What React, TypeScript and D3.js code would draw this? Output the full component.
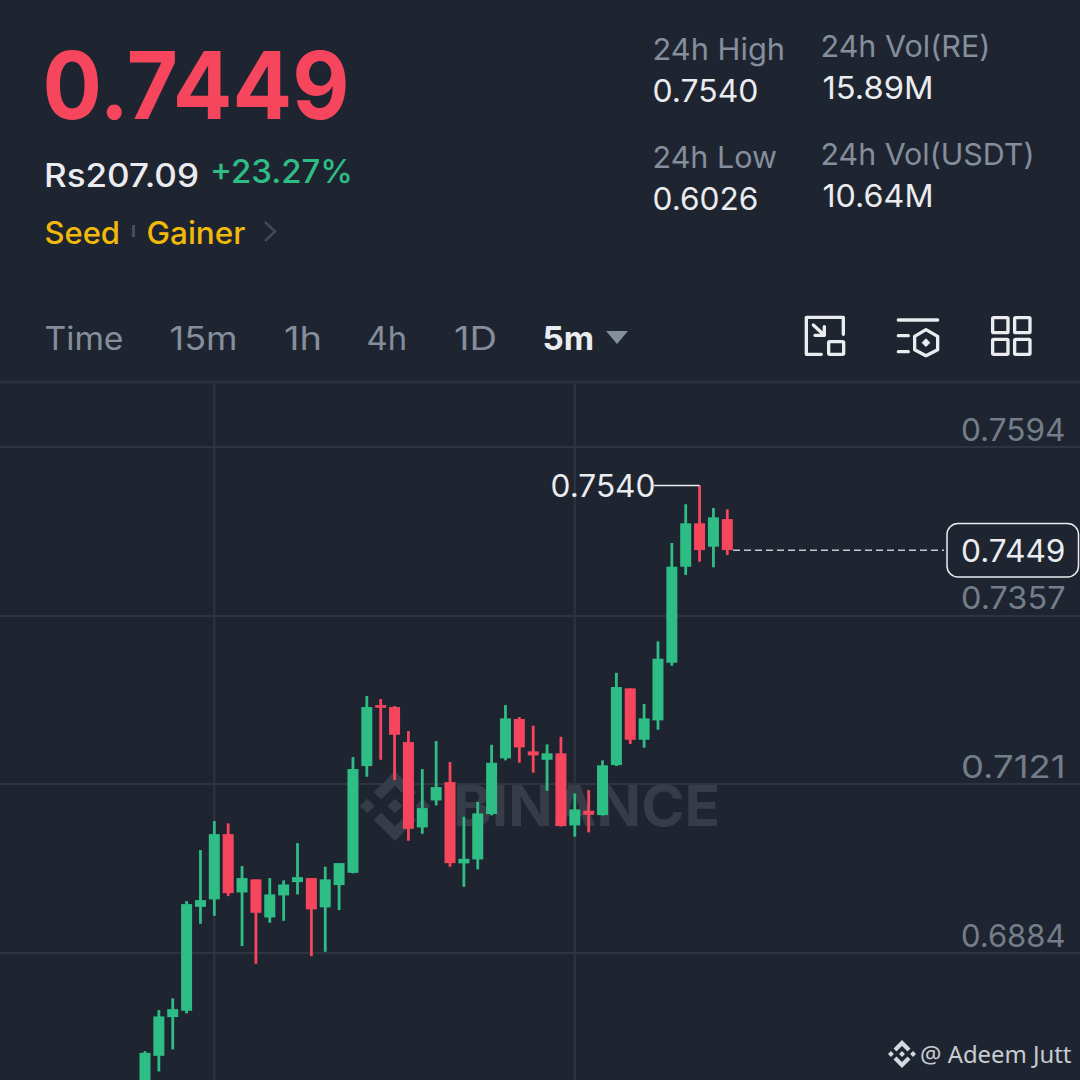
import React from "react";
import * as d3 from "d3";

const opens = [0.66845,0.67397,0.6794,0.68029,0.69488,0.69592,0.70508,0.6969,0.69873,0.69339,0.69648,0.69835,0.69891,0.6948,0.69793,0.69965,0.71463,0.72319,0.72291,0.718,0.70602,0.70981,0.71238,0.70097,0.70153,0.70789,0.71571,0.72123,0.71669,0.71551,0.71641,0.7063,0.70836,0.70775,0.71477,0.72553,0.71832,0.72104,0.72913,0.7426,0.74869,0.74541,0.74929];
const highs = [0.67463,0.68038,0.68203,0.69568,0.70284,0.70691,0.70659,0.70059,0.69873,0.69891,0.69859,0.70382,0.69891,0.7005,0.70101,0.71589,0.72445,0.72403,0.72305,0.71954,0.71421,0.71814,0.71519,0.70751,0.70958,0.71762,0.72319,0.72151,0.72029,0.71767,0.71874,0.7108,0.71126,0.71543,0.72772,0.72553,0.72333,0.73213,0.74593,0.75136,0.7540,0.75084,0.75066];
const lows = [0.66775,0.67178,0.67487,0.67992,0.6925,0.69362,0.69638,0.68937,0.68688,0.69264,0.69292,0.69662,0.68796,0.68857,0.69442,0.69957,0.71313,0.71551,0.71266,0.70415,0.70513,0.70911,0.7005,0.69769,0.70013,0.70771,0.71543,0.71509,0.71369,0.71116,0.70614,0.70471,0.70532,0.70771,0.71463,0.71772,0.7172,0.71972,0.72871,0.74144,0.7433,0.74252,0.74424];
const closes = [0.67439,0.6795,0.68052,0.69526,0.69582,0.70508,0.6968,0.69891,0.69404,0.69662,0.69802,0.69905,0.69452,0.69873,0.70101,0.71421,0.72291,0.72281,0.71902,0.70583,0.70873,0.71168,0.70101,0.70162,0.70799,0.71509,0.72132,0.71725,0.71613,0.71641,0.70621,0.70855,0.70779,0.71473,0.72572,0.71832,0.72132,0.72969,0.7426,0.74869,0.74494,0.74953,0.74494];
const priceTicks = [0.7594, 0.7357, 0.7121, 0.6884];
const lastPrice = 0.7449;
const highPrice = 0.754;
const highIndex = 40;
const timeGridIndex = [5, 31];

const BG = "#1f2530";
const GREEN = "#2ebd85";
const RED = "#f6465d";
const GRID = "#2e3541";
const WHITE = "#eaecef";
const GREY = "#848e9c";
const FONT = "Inter, sans-serif";

const x = d3.scaleLinear().domain([0, opens.length - 1]).range([145, 727.3]);
const y = d3.scaleLinear().domain([0.7594, 0.6884]).range([447, 953]);
const BODY = 11;
const WICK = 2.8;

type TP = { x: number; y: number; w: number; s: number; c: string; wt?: number; f?: string; children: string };
function T({ x, y, w, s, c, wt = 400, f = FONT, children }: TP) {
  return (
    <text x={x} y={y} fontSize={s} fill={c} fontWeight={wt} fontFamily={f} textLength={w} lengthAdjust="spacingAndGlyphs">
      {children}
    </text>
  );
}

function Logo({ cx, cy, r, fill }: { cx: number; cy: number; r: number; fill: string }) {
  const top = "0,-1 0.605,-0.395 0.395,-0.185 0,-0.58 -0.395,-0.185 -0.605,-0.395";
  const bottom = "0,1 0.605,0.395 0.395,0.185 0,0.58 -0.395,0.185 -0.605,0.395";
  const diamond = (c: number) => `${c - 0.21},0 ${c},-0.21 ${c + 0.21},0 ${c},0.21`;
  return (
    <g transform={`translate(${cx},${cy}) scale(${r})`} fill={fill}>
      <polygon points={top} />
      <polygon points={bottom} />
      <polygon points={diamond(0)} />
      <polygon points={diamond(-0.79)} />
      <polygon points={diamond(0.79)} />
    </g>
  );
}

export default function App() {
  return (
    <svg width={1080} height={1080} viewBox="0 0 1080 1080" style={{ position: "fixed", left: 0, top: 0, display: "block" }}>
      <rect width={1080} height={1080} fill={BG} />

      {/* header */}
      <T x={42.5} y={119} w={307} s={93} c={RED} wt={700}>0.7449</T>
      <T x={44} y={186.5} w={155} s={32} c={WHITE} wt={500}>Rs207.09</T>
      <T x={210} y={182.5} w={143} s={32} c={GREEN} wt={500}>+23.27%</T>
      <T x={44.5} y={243.5} w={75.5} s={31} c="#f0b90b" wt={500}>Seed</T>
      <rect x={132} y={225} width={3} height={12} fill="#474d57" />
      <T x={146.5} y={243.5} w={99} s={31} c="#f0b90b" wt={500}>Gainer</T>
      <path d="M265,222 L275,231.5 L265,241" fill="none" stroke="#474d57" strokeWidth={2.4} />

      <T x={652.5} y={59.5} w={132.5} s={30} c={GREY}>24h High</T>
      <T x={652.5} y={101.5} w={106} s={31} c={WHITE}>0.7540</T>
      <T x={652.5} y={167.5} w={124.5} s={30} c={GREY}>24h Low</T>
      <T x={652.5} y={209.5} w={106} s={31} c={WHITE}>0.6026</T>
      <T x={820.5} y={56.5} w={170} s={30} c={GREY}>24h Vol(RE)</T>
      <T x={822.5} y={99} w={111} s={31} c={WHITE}>15.89M</T>
      <T x={820.5} y={165} w={214} s={30} c={GREY}>24h Vol(USDT)</T>
      <T x={822.5} y={207} w={111} s={31} c={WHITE}>10.64M</T>

      {/* toolbar */}
      <T x={44.5} y={349.5} w={79} s={32} c={GREY}>Time</T>
      <T x={169.5} y={349.5} w={68} s={32} c={GREY}>15m</T>
      <T x={284} y={349.5} w={38} s={32} c={GREY}>1h</T>
      <T x={366.5} y={349.5} w={40.5} s={32} c={GREY}>4h</T>
      <T x={454} y={349.5} w={43} s={32} c={GREY}>1D</T>
      <T x={542.5} y={349.5} w={51.5} s={32} c={WHITE} wt={700}>5m</T>
      <path d="M606,331 L628,331 L617,344 Z" fill="#848e9c" />

      <g transform="translate(780,300) scale(0.3333)" fill="none" stroke={WHITE} strokeWidth={10} strokeLinejoin="round" strokeLinecap="round">
        <path d="M190,103 L190,52 L79,52 L79,163 L124,163" />
        <rect x={146} y={125} width={45} height={38} rx={3} />
        <path d="M100,75 L133,106 M133,80 L133,106 L105,106" />
        <path d="M355,60 L473,60 M355,107 L385,107 M355,155 L385,155" />
        <path d="M438,89 L473,109 L473,149 L438,167 L404,149 L404,109 Z" />
        <path d="M438,115 L451,128 L438,141 L425,128 Z" fill={WHITE} stroke="none" />
        <rect x={638} y={53} width={46} height={45} rx={3} />
        <rect x={704} y={53} width={46} height={45} rx={3} />
        <rect x={638} y={118} width={46} height={45} rx={3} />
        <rect x={704} y={118} width={46} height={45} rx={3} />
      </g>

      <rect x={0} y={380.5} width={1080} height={3} fill="#2a303b" />

      {/* grid */}
      {priceTicks.map((p) => (
        <line key={p} x1={0} x2={1080} y1={y(p)} y2={y(p)} stroke={GRID} strokeWidth={2} />
      ))}
      {timeGridIndex.map((i) => (
        <line key={i} x1={x(i)} x2={x(i)} y1={383} y2={1080} stroke={GRID} strokeWidth={2} />
      ))}

      {/* watermark */}
      <Logo cx={395} cy={806} r={35} fill="#373d48" />
      <T x={453} y={826} w={267} s={56} c="#373d48" wt={700}>BINANCE</T>

      {/* candles */}
      {opens.map((o, i) => {
        const up = closes[i] >= o;
        const color = up ? GREEN : RED;
        const top = y(Math.max(o, closes[i]));
        const bot = y(Math.min(o, closes[i]));
        return (
          <g key={i} fill={color}>
            <rect x={x(i) - WICK / 2} y={y(highs[i])} width={WICK} height={y(lows[i]) - y(highs[i])} />
            <rect x={x(i) - BODY / 2} y={top} width={BODY} height={Math.max(bot - top, 2)} />
          </g>
        );
      })}

      {/* high marker */}
      <line x1={654} x2={x(highIndex)} y1={y(highPrice)} y2={y(highPrice)} stroke={WHITE} strokeWidth={1.5} />
      <T x={550.5} y={497} w={105} s={31} c={WHITE}>0.7540</T>

      {/* price axis labels */}
      {priceTicks.map((p) => (
        <T key={p} x={961} y={y(p) - 6.5} w={104.5} s={31} c="#747d8a">{p.toFixed(4)}</T>
      ))}

      {/* last price */}
      <line x1={733} x2={944} y1={y(lastPrice)} y2={y(lastPrice)} stroke="#c4c8ce" strokeWidth={1.5} strokeDasharray="7 4" />
      <rect x={947} y={523.5} width={131.5} height={53.5} rx={11} fill={BG} stroke={WHITE} strokeWidth={1.5} />
      <T x={961} y={562} w={104.5} s={31} c={WHITE}>0.7449</T>

      {/* credit */}
      <Logo cx={902} cy={1054} r={14} fill="#d5d8dc" />
      <T x={920} y={1063} w={151.5} s={24} c="#c8ccd2" f="'Noto Sans', sans-serif">@ Adeem Jutt</T>
    </svg>
  );
}
